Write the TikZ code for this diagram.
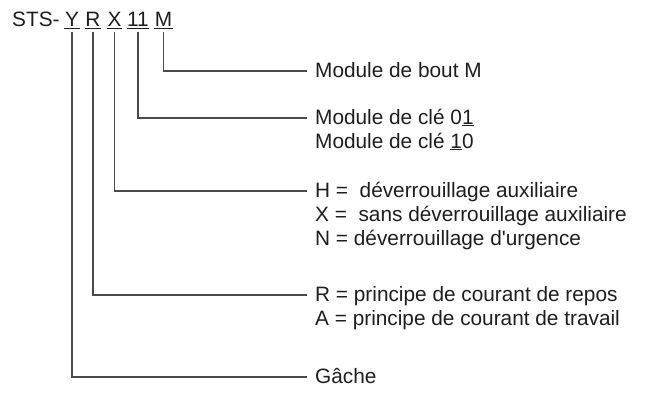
\documentclass[tikz,border=0pt]{standalone}
\usepackage{fontspec}
\setmainfont{Liberation Sans}
\newfontfamily\plainapos{Liberation Sans}
\definecolor{ink}{HTML}{1E1E1E}
\definecolor{wire}{HTML}{4A4A4A}
\begin{document}
\begin{tikzpicture}[x=1pt,y=-1pt,
  font=\fontsize{20.8}{24}\selectfont,
  every node/.style={text=ink},
  lbl/.style={anchor=base west, inner sep=0pt},
  code/.style={anchor=base, inner xsep=0.5pt, inner ysep=0pt, text depth=0pt},
  conn/.style={draw=wire, line width=1.2pt},
  uline/.style={draw=ink, line width=1.1pt}]
\useasboundingbox (0,0) rectangle (646,392);
% title
\node[lbl] (sts) at (12,26) {STS-};
\node[code] (cY) at (72,26) {Y};
\node[code] (cR) at (93,26) {R};
\node[code] (cX) at (114.5,26) {X};
\node[code] (cN) at (138,26) {11};
\node[code] (cM) at (163.5,26) {M};
\foreach \n in {cY,cR,cX,cN,cM}
  \draw[uline] ([yshift=-2.5pt]\n.south west) -- ([yshift=-2.5pt]\n.south east);
% labels
\node[lbl] (tM) at (315,77) {Module de bout M};
\node[lbl] (tN1) at (315,124) {Module de clé 0\underline{1}};
\node[lbl] (tN2) at (315,148) {Module de clé \underline{1}0};
\node[lbl] (tX1) at (315,197) {H =\ \ déverrouillage auxiliaire};
\node[lbl] (tX2) at (315,221) {X =\ \ sans déverrouillage auxiliaire};
\node[lbl] (tX3) at (315,245) {N = déverrouillage d{\plainapos '}urgence};
\node[lbl] (tR1) at (315,301) {R = principe de courant de repos};
\node[lbl] (tR2) at (315,325) {A = principe de courant de travail};
\node[lbl] (tY) at (315,383) {Gâche};
% line ends
\coordinate (eM) at (307,71);
\coordinate (eN) at (307,118);
\coordinate (eX) at (307,191);
\coordinate (eR) at (307,295);
\coordinate (eY) at (307,377);
% connectors
\draw[conn] ([yshift=-6pt]cM.south) |- (eM);
\draw[conn] ([yshift=-6pt]cN.south) |- (eN);
\draw[conn] ([yshift=-6pt]cX.south) |- (eX);
\draw[conn] ([yshift=-6pt]cR.south) |- (eR);
\draw[conn] ([yshift=-6pt]cY.south) |- (eY);
\end{tikzpicture}
\end{document}
